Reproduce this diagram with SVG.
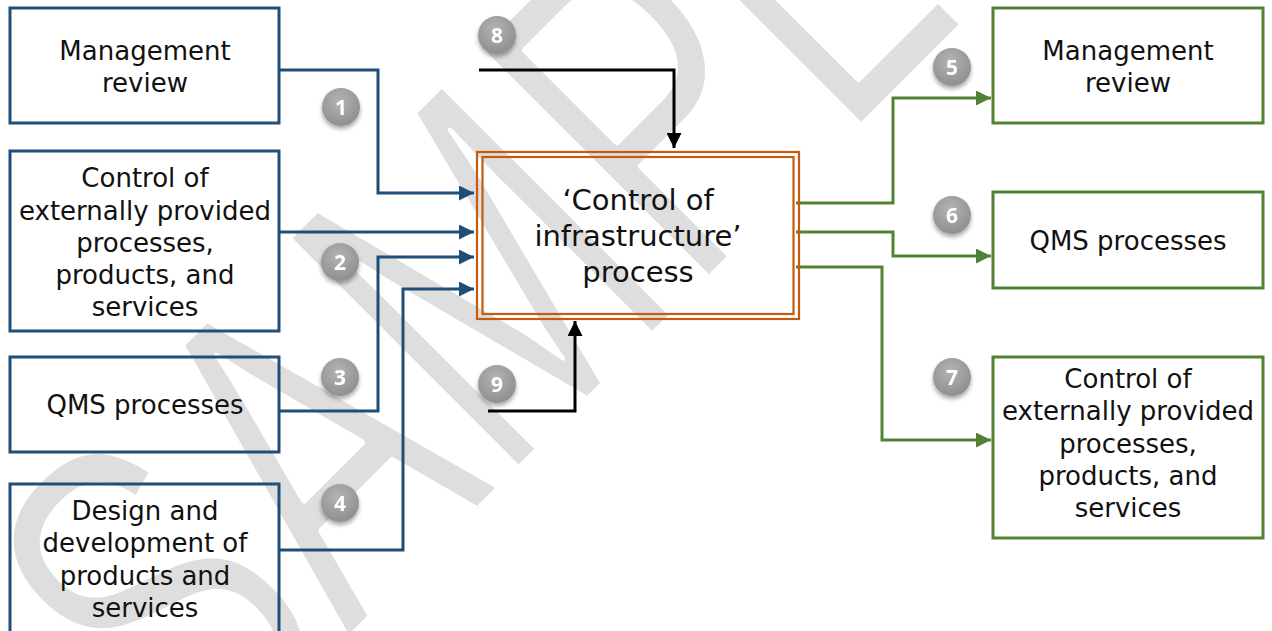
<svg xmlns="http://www.w3.org/2000/svg" width="1272" height="631" viewBox="0 0 1272 631">
  <defs>
    <style>
      .lbl { font-family: "DejaVu Sans", Verdana, sans-serif; font-size: 26px; fill: #111; text-anchor: middle; }
      .big { font-size: 29px; }
      .inbox { fill: none; stroke: #1F4E79; stroke-width: 3; }
      .outbox { fill: none; stroke: #548235; stroke-width: 3; }
      .core { fill: none; stroke: #C55A11; stroke-width: 2.2; }
      .in { fill: none; stroke: #1F4E79; stroke-width: 3; }
      .out { fill: none; stroke: #548235; stroke-width: 3; }
      .res { fill: none; stroke: #000; stroke-width: 3; }
      .num { font-family: "Open Sans", "DejaVu Sans", sans-serif; font-weight: bold; font-size: 21px; fill: #fff; text-anchor: middle; }
      /* background stamp; the white edge slims the glyph strokes */
      .mark { font-family: "Liberation Sans", Arial, sans-serif; font-size: 475px; fill: #dedede; stroke: #fff; stroke-width: 7; stroke-linejoin: round; }
    </style>
    <marker id="ahBlue" viewBox="0 0 10 10" refX="10" refY="5" markerWidth="5" markerHeight="5" markerUnits="strokeWidth" orient="auto">
      <path d="M0,0 L10,5 L0,10 z" fill="#1F4E79"/>
    </marker>
    <marker id="ahGreen" viewBox="0 0 10 10" refX="10" refY="5" markerWidth="5" markerHeight="5" markerUnits="strokeWidth" orient="auto">
      <path d="M0,0 L10,5 L0,10 z" fill="#548235"/>
    </marker>
    <marker id="ahBlack" viewBox="0 0 10 10" refX="10" refY="5" markerWidth="5" markerHeight="5" markerUnits="strokeWidth" orient="auto">
      <path d="M0,0 L10,5 L0,10 z" fill="#000"/>
    </marker>
    <radialGradient id="ball" cx="0.45" cy="0.35" r="0.7">
      <stop offset="0" stop-color="#b4b4b4"/>
      <stop offset="1" stop-color="#8c8c8c"/>
    </radialGradient>
    <filter id="shadow" x="-50%" y="-50%" width="200%" height="200%">
      <feDropShadow dx="0" dy="3" stdDeviation="2" flood-color="#000" flood-opacity="0.35"/>
    </filter>
  </defs>

  <rect width="1272" height="631" fill="#fff"/>

  <!-- watermark -->
  <text class="mark" transform="translate(196,792) rotate(-45) scale(0.68,1)">SAMPLE</text>

  <!-- connectors -->
  <g id="connectors">
    <path class="in" d="M280,70 H378 V193 H474" marker-end="url(#ahBlue)"/>
    <path class="in" d="M280,232 H474" marker-end="url(#ahBlue)"/>
    <path class="in" d="M280,411 H378 V257 H474" marker-end="url(#ahBlue)"/>
    <path class="in" d="M280,550 H403 V289 H474" marker-end="url(#ahBlue)"/>
    <path class="res" d="M479,70 H674 V148" marker-end="url(#ahBlack)"/>
    <path class="res" d="M488,411 H575 V321" marker-end="url(#ahBlack)"/>
    <path class="out" d="M796,203 H893 V98 H991" marker-end="url(#ahGreen)"/>
    <path class="out" d="M796,232 H893 V256 H991" marker-end="url(#ahGreen)"/>
    <path class="out" d="M796,267 H882 V440 H991" marker-end="url(#ahGreen)"/>
  </g>

  <!-- inputs -->
  <g id="in-management-review">
    <rect class="inbox" x="10" y="8" width="269" height="115"/>
    <text class="lbl" x="145" y="60">Management</text>
    <text class="lbl" x="145" y="92">review</text>
  </g>
  <g id="in-external-provision">
    <rect class="inbox" x="10" y="151" width="269" height="180"/>
    <text class="lbl" x="145" y="187">Control of</text>
    <text class="lbl" x="145" y="220">externally provided</text>
    <text class="lbl" x="145" y="252">processes,</text>
    <text class="lbl" x="145" y="284">products, and</text>
    <text class="lbl" x="145" y="316">services</text>
  </g>
  <g id="in-qms">
    <rect class="inbox" x="10" y="357" width="269" height="95"/>
    <text class="lbl" x="145" y="414">QMS processes</text>
  </g>
  <g id="in-design">
    <rect class="inbox" x="10" y="484" width="269" height="170"/>
    <text class="lbl" x="145" y="520">Design and</text>
    <text class="lbl" x="145" y="552">development of</text>
    <text class="lbl" x="145" y="585">products and</text>
    <text class="lbl" x="145" y="617">services</text>
  </g>

  <!-- process -->
  <g id="process">
    <rect class="core" x="477" y="152" width="322" height="167"/>
    <rect class="core" x="482.5" y="157" width="311" height="157"/>
    <text class="lbl big" x="638" y="210">‘Control of</text>
    <text class="lbl big" x="638" y="246">infrastructure’</text>
    <text class="lbl big" x="638" y="282">process</text>
  </g>

  <!-- outputs -->
  <g id="out-management-review">
    <rect class="outbox" x="993" y="8" width="270" height="115"/>
    <text class="lbl" x="1128" y="60">Management</text>
    <text class="lbl" x="1128" y="92">review</text>
  </g>
  <g id="out-qms">
    <rect class="outbox" x="993" y="192" width="270" height="96"/>
    <text class="lbl" x="1128" y="250">QMS processes</text>
  </g>
  <g id="out-external-provision">
    <rect class="outbox" x="993" y="357" width="270" height="181"/>
    <text class="lbl" x="1128" y="388">Control of</text>
    <text class="lbl" x="1128" y="420">externally provided</text>
    <text class="lbl" x="1128" y="453">processes,</text>
    <text class="lbl" x="1128" y="485">products, and</text>
    <text class="lbl" x="1128" y="517">services</text>
  </g>

  <!-- numbered badges -->
  <g id="badge-1" filter="url(#shadow)"><circle cx="341" cy="107" r="19" fill="url(#ball)"/><text class="num" x="341" y="114.5">1</text></g>
  <g id="badge-2" filter="url(#shadow)"><circle cx="340" cy="262" r="19" fill="url(#ball)"/><text class="num" x="340" y="269.5">2</text></g>
  <g id="badge-3" filter="url(#shadow)"><circle cx="340" cy="377" r="19" fill="url(#ball)"/><text class="num" x="340" y="384.5">3</text></g>
  <g id="badge-4" filter="url(#shadow)"><circle cx="340" cy="503" r="19" fill="url(#ball)"/><text class="num" x="340" y="510.5">4</text></g>
  <g id="badge-5" filter="url(#shadow)"><circle cx="952" cy="67" r="19" fill="url(#ball)"/><text class="num" x="952" y="74.5">5</text></g>
  <g id="badge-6" filter="url(#shadow)"><circle cx="952" cy="215" r="19" fill="url(#ball)"/><text class="num" x="952" y="222.5">6</text></g>
  <g id="badge-7" filter="url(#shadow)"><circle cx="952" cy="377" r="19" fill="url(#ball)"/><text class="num" x="952" y="384.5">7</text></g>
  <g id="badge-8" filter="url(#shadow)"><circle cx="497" cy="35" r="19" fill="url(#ball)"/><text class="num" x="497" y="42.5">8</text></g>
  <g id="badge-9" filter="url(#shadow)"><circle cx="497" cy="384" r="19" fill="url(#ball)"/><text class="num" x="497" y="391.5">9</text></g>
</svg>
